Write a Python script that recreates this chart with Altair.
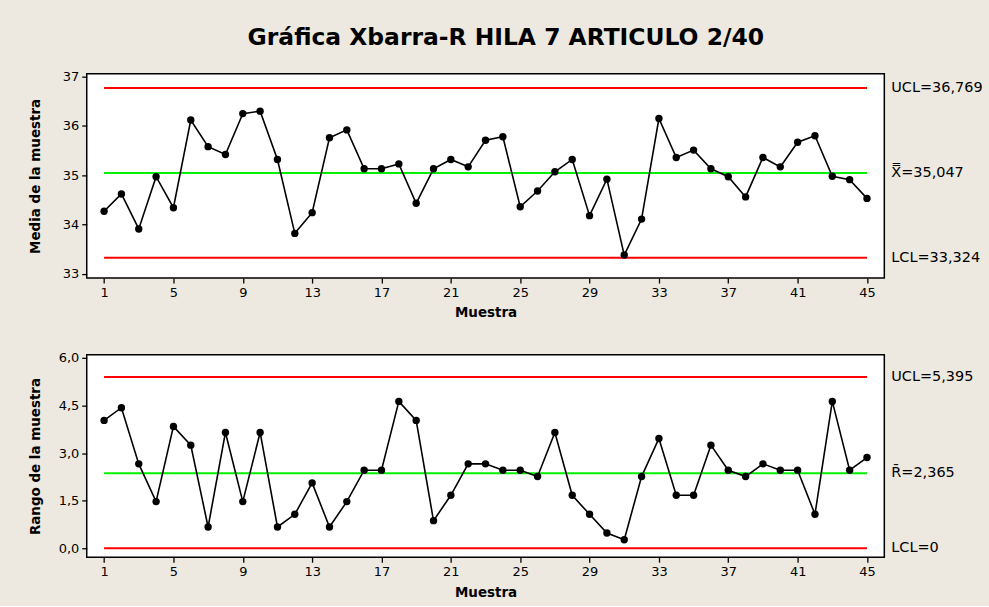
import altair as alt
import pandas as pd

FONT = "DejaVu Sans"
BG = "#EDE9E0"

# Sample numbers and the plotted statistics
samples = list(range(1, 46))
xbar = [34.27, 34.62, 33.91, 34.97, 34.34, 36.12, 35.58, 35.42, 36.25, 36.30,
        35.32, 33.82, 34.24, 35.76, 35.92, 35.13, 35.13, 35.23, 34.43, 35.13,
        35.32, 35.17, 35.71, 35.78, 34.36, 34.68, 35.07, 35.32, 34.18, 34.92,
        33.38, 34.11, 36.15, 35.36, 35.51, 35.13, 34.97, 34.56, 35.36, 35.17,
        35.67, 35.80, 34.98, 34.91, 34.53]
ranges = [4.03, 4.43, 2.66, 1.47, 3.84, 3.25, 0.67, 3.65, 1.47, 3.65,
          0.67, 1.07, 2.06, 0.67, 1.47, 2.46, 2.46, 4.63, 4.03, 0.87,
          1.67, 2.66, 2.66, 2.46, 2.46, 2.26, 3.65, 1.67, 1.07, 0.48,
          0.27, 2.26, 3.46, 1.67, 1.67, 3.25, 2.46, 2.26, 2.66, 2.46,
          2.46, 1.07, 4.63, 2.46, 2.86]

# Control limits (UCL, centre line, LCL) and their labels
xbar_limits = [36.769, 35.047, 33.324]
xbar_labels = ["UCL=36,769", "X\u033f=35,047", "LCL=33,324"]
r_limits = [5.395, 2.365, 0.0]
r_labels = ["UCL=5,395", "R\u0304=2,365", "LCL=0"]

x_ticks = [1, 5, 9, 13, 17, 21, 25, 29, 33, 37, 41, 45]
xbar_ticks = [33, 34, 35, 36, 37]
r_ticks = [0.0, 1.5, 3.0, 4.5, 6.0]

W = 800


def panel(values, limits, labels, y_domain, y_ticks, y_title, label_expr, h):
    pts = pd.DataFrame({"Muestra": samples, "valor": values})
    lim = pd.DataFrame({
        "x0": [samples[0]] * 3,
        "x1": [samples[-1]] * 3,
        "xl": [46] * 3,
        "y": limits,
        "kind": ["UCL", "CL", "LCL"],
        "label": labels,
    })
    xscale = alt.Scale(domain=[0, 46], nice=False, zero=False)
    yscale = alt.Scale(domain=y_domain, nice=False, zero=False)
    xaxis = alt.Axis(values=x_ticks, title="Muestra", format="d",
                     titlePadding=7)
    yaxis = alt.Axis(values=y_ticks, title=y_title, labelExpr=label_expr,
                     titleX=-44, titleY=h / 2, titleAngle=270,
                     titleBaseline="bottom", titleAlign="center")

    rules = alt.Chart(lim).mark_rule(strokeWidth=2).encode(
        x=alt.X("x0:Q", scale=xscale, axis=xaxis),
        x2="x1:Q",
        y=alt.Y("y:Q", scale=yscale, axis=yaxis),
        color=alt.Color("kind:N", legend=None,
                        scale=alt.Scale(domain=["UCL", "CL", "LCL"],
                                        range=["#ff0000", "#00f000", "#ff0000"])),
    )
    texts = alt.Chart(lim).mark_text(align="left", baseline="middle", dx=7,
                                     font=FONT, fontSize=14.5, color="black").encode(
        x="xl:Q", y="y:Q", text="label:N")
    line = alt.Chart(pts).mark_line(color="black", strokeWidth=1.6).encode(
        x="Muestra:Q", y="valor:Q")
    dots = alt.Chart(pts).mark_circle(color="black", size=55, opacity=1).encode(
        x="Muestra:Q", y="valor:Q")
    return alt.layer(rules, line, dots, texts).properties(width=W, height=h)


top = panel(xbar, xbar_limits, xbar_labels, [32.913, 37.06], xbar_ticks,
            "Media de la muestra", "format(datum.value, 'd')", 205)
bottom = panel(ranges, r_limits, r_labels, [-0.283, 6.097], r_ticks,
               "Rango de la muestra",
               "replace(format(datum.value, '.1f'), '.', ',')", 203)

chart = alt.vconcat(top, bottom, spacing=30).properties(
    title=alt.TitleParams("Gráfica Xbarra-R HILA 7 ARTICULO 2/40",
                          font=FONT, fontSize=23.5, fontWeight="bold",
                          color="black", anchor="middle", offset=20),
    background=BG,
    padding={"left": 28, "top": 25, "right": 5, "bottom": 5},
).configure_view(
    fill="white", stroke="black", strokeWidth=1.5
).configure_axis(
    grid=False, domain=False, tickColor="black", tickSize=5, tickWidth=1.3,
    labelFont=FONT, labelFontSize=13, labelColor="black", labelPadding=3,
    titleFont=FONT, titleFontSize=13.5, titleFontWeight="bold",
    titleColor="black",
)

chart.save("out.html", embed_options={"renderer": "svg", "actions": False})
